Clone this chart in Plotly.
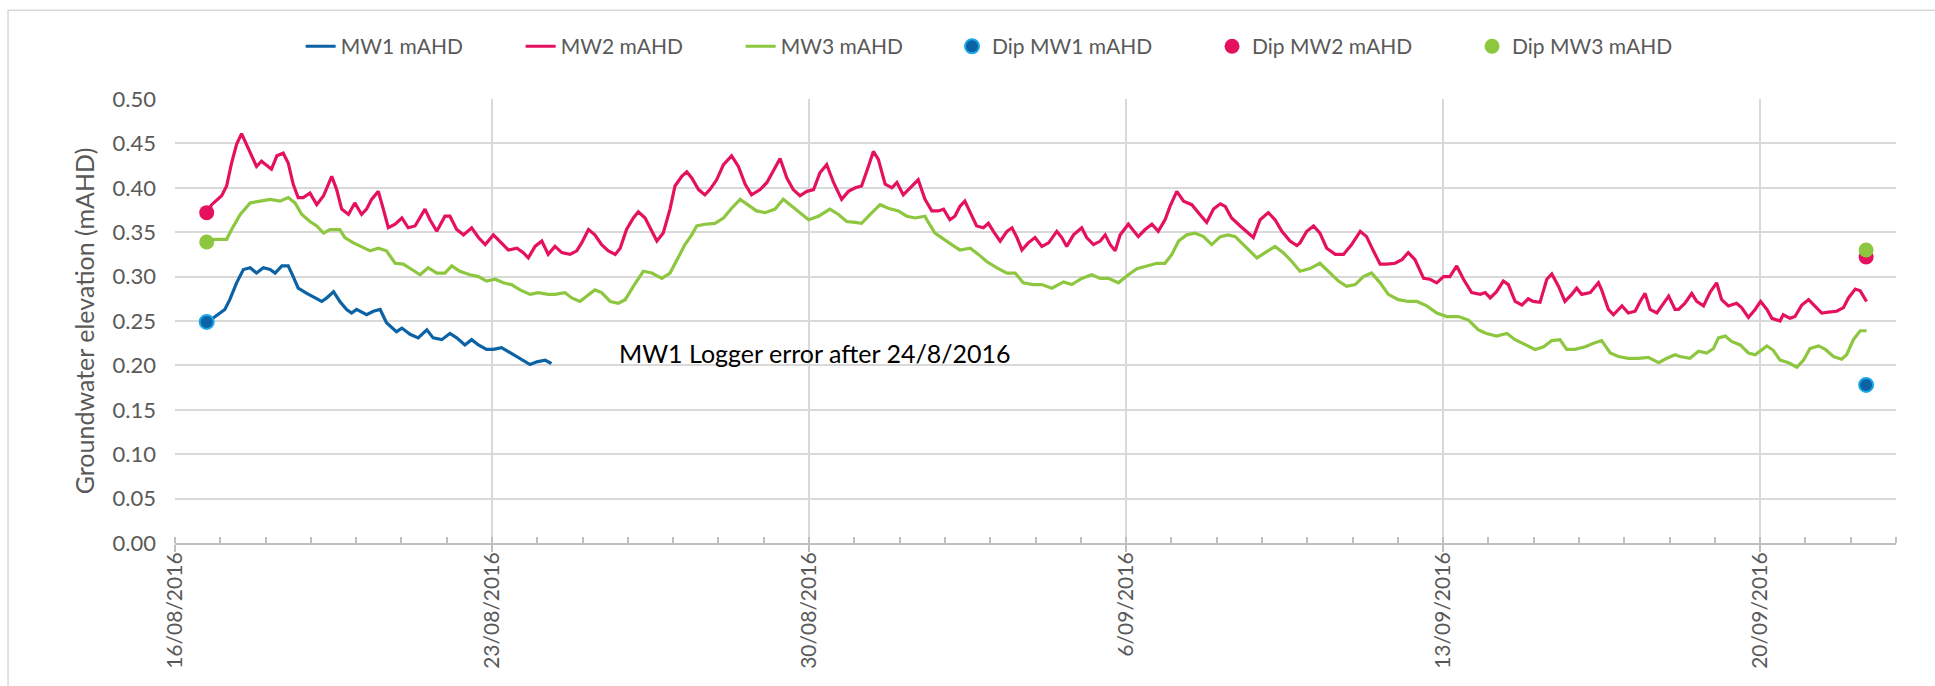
import pandas as pd
import plotly.graph_objects as go

BASE_DATE = pd.Timestamp("2016-08-16")

# (days after 16/08/2016 00:00, mAHD)
MW1_READINGS = [
    (0.70, 0.248), (0.88, 0.255), (1.10, 0.263), (1.21, 0.274), (1.36, 0.293),
    (1.51, 0.308), (1.66, 0.310), (1.80, 0.304), (1.95, 0.310), (2.10, 0.308),
    (2.21, 0.304), (2.36, 0.312), (2.50, 0.312), (2.61, 0.300), (2.72, 0.287),
    (2.91, 0.281), (3.09, 0.276), (3.24, 0.272), (3.35, 0.276), (3.50, 0.283),
    (3.64, 0.272), (3.79, 0.263), (3.90, 0.259), (4.01, 0.263), (4.23, 0.257),
    (4.38, 0.261), (4.53, 0.263), (4.67, 0.248), (4.89, 0.238), (5.01, 0.242),
    (5.19, 0.235), (5.37, 0.231), (5.56, 0.240), (5.70, 0.231), (5.89, 0.229),
    (6.07, 0.236), (6.22, 0.231), (6.40, 0.223), (6.55, 0.229), (6.70, 0.223),
    (6.88, 0.218), (7.03, 0.218), (7.21, 0.220), (7.40, 0.214), (7.62, 0.208),
    (7.84, 0.201), (7.99, 0.204), (8.17, 0.206), (8.28, 0.203), (8.31, 0.202),
]

MW2_READINGS = [
    (0.70, 0.372), (0.81, 0.381), (1.03, 0.391), (1.14, 0.402), (1.25, 0.428),
    (1.36, 0.449), (1.47, 0.461), (1.58, 0.449), (1.69, 0.438), (1.80, 0.424),
    (1.91, 0.430), (2.02, 0.426), (2.13, 0.421), (2.25, 0.436), (2.39, 0.439),
    (2.50, 0.428), (2.61, 0.404), (2.72, 0.389), (2.83, 0.389), (2.98, 0.394),
    (3.13, 0.381), (3.28, 0.391), (3.46, 0.413), (3.57, 0.398), (3.68, 0.376),
    (3.83, 0.370), (3.97, 0.383), (4.12, 0.370), (4.23, 0.376), (4.34, 0.387),
    (4.49, 0.396), (4.60, 0.376), (4.71, 0.355), (4.86, 0.359), (5.01, 0.366),
    (5.15, 0.355), (5.30, 0.357), (5.52, 0.376), (5.63, 0.364), (5.78, 0.351),
    (5.96, 0.368), (6.07, 0.368), (6.22, 0.353), (6.37, 0.347), (6.55, 0.355),
    (6.70, 0.344), (6.85, 0.336), (7.03, 0.347), (7.21, 0.338), (7.36, 0.330),
    (7.55, 0.332), (7.69, 0.327), (7.80, 0.321), (7.95, 0.334), (8.10, 0.340),
    (8.24, 0.325), (8.39, 0.334), (8.54, 0.327), (8.72, 0.325), (8.87, 0.329),
    (8.98, 0.338), (9.13, 0.353), (9.27, 0.347), (9.42, 0.336), (9.57, 0.329),
    (9.72, 0.325), (9.83, 0.332), (9.97, 0.353), (10.12, 0.366), (10.23, 0.373),
    (10.38, 0.366), (10.53, 0.351), (10.64, 0.340), (10.78, 0.349), (10.93, 0.376),
    (11.04, 0.402), (11.19, 0.413), (11.30, 0.418), (11.41, 0.411), (11.56, 0.398),
    (11.70, 0.392), (11.81, 0.398), (11.96, 0.409), (12.11, 0.426), (12.29, 0.436),
    (12.44, 0.424), (12.59, 0.404), (12.73, 0.392), (12.92, 0.398), (13.07, 0.406),
    (13.21, 0.419), (13.36, 0.433), (13.51, 0.411), (13.65, 0.398), (13.80, 0.391),
    (13.95, 0.396), (14.10, 0.398), (14.24, 0.417), (14.39, 0.426), (14.54, 0.406),
    (14.72, 0.387), (14.87, 0.396), (15.02, 0.400), (15.16, 0.402), (15.31, 0.424),
    (15.42, 0.441), (15.53, 0.432), (15.68, 0.404), (15.83, 0.400), (15.94, 0.406),
    (16.08, 0.392), (16.27, 0.402), (16.41, 0.409), (16.56, 0.387), (16.71, 0.374),
    (16.86, 0.374), (16.97, 0.376), (17.11, 0.364), (17.22, 0.368), (17.33, 0.379),
    (17.44, 0.385), (17.56, 0.372), (17.70, 0.357), (17.85, 0.355), (17.96, 0.360),
    (18.07, 0.351), (18.22, 0.340), (18.37, 0.351), (18.48, 0.355), (18.59, 0.344),
    (18.70, 0.330), (18.84, 0.338), (18.99, 0.344), (19.14, 0.334), (19.29, 0.338),
    (19.47, 0.351), (19.58, 0.344), (19.69, 0.334), (19.84, 0.347), (20.02, 0.355),
    (20.13, 0.344), (20.28, 0.336), (20.43, 0.340), (20.54, 0.347), (20.65, 0.336),
    (20.76, 0.329), (20.87, 0.347), (21.05, 0.359), (21.27, 0.345), (21.42, 0.353),
    (21.57, 0.359), (21.71, 0.351), (21.86, 0.364), (21.97, 0.379), (22.12, 0.396),
    (22.27, 0.385), (22.45, 0.381), (22.63, 0.370), (22.78, 0.361), (22.93, 0.376),
    (23.08, 0.382), (23.19, 0.379), (23.33, 0.366), (23.52, 0.357), (23.66, 0.351),
    (23.81, 0.344), (23.96, 0.364), (24.14, 0.372), (24.29, 0.364), (24.44, 0.351),
    (24.62, 0.340), (24.77, 0.335), (24.84, 0.338), (24.99, 0.351), (25.14, 0.357),
    (25.28, 0.349), (25.43, 0.332), (25.62, 0.325), (25.80, 0.325), (25.98, 0.336),
    (26.17, 0.351), (26.31, 0.345), (26.46, 0.329), (26.61, 0.314), (26.76, 0.314),
    (26.94, 0.315), (27.09, 0.319), (27.23, 0.327), (27.38, 0.319), (27.57, 0.298),
    (27.71, 0.297), (27.86, 0.293), (28.01, 0.300), (28.15, 0.300), (28.30, 0.312),
    (28.45, 0.297), (28.63, 0.282), (28.82, 0.280), (28.93, 0.282), (29.04, 0.276),
    (29.18, 0.283), (29.33, 0.295), (29.44, 0.291), (29.59, 0.272), (29.74, 0.268),
    (29.88, 0.275), (29.99, 0.272), (30.14, 0.271), (30.29, 0.297), (30.40, 0.303),
    (30.55, 0.289), (30.69, 0.272), (30.84, 0.280), (30.95, 0.287), (31.06, 0.280),
    (31.25, 0.282), (31.43, 0.293), (31.50, 0.285), (31.65, 0.263), (31.76, 0.257),
    (31.95, 0.267), (32.09, 0.259), (32.24, 0.261), (32.35, 0.272), (32.46, 0.281),
    (32.57, 0.263), (32.72, 0.259), (32.83, 0.267), (32.98, 0.278), (33.12, 0.263),
    (33.20, 0.263), (33.34, 0.270), (33.49, 0.281), (33.60, 0.272), (33.75, 0.267),
    (33.90, 0.283), (34.04, 0.293), (34.15, 0.274), (34.30, 0.267), (34.48, 0.270),
    (34.59, 0.265), (34.74, 0.254), (34.89, 0.263), (35.01, 0.272), (35.15, 0.263),
    (35.26, 0.253), (35.44, 0.250), (35.51, 0.257), (35.66, 0.253), (35.77, 0.255),
    (35.92, 0.268), (36.07, 0.274), (36.21, 0.267), (36.36, 0.259), (36.51, 0.260),
    (36.69, 0.261), (36.84, 0.265), (36.95, 0.276), (37.10, 0.286), (37.21, 0.284),
    (37.35, 0.272),
]

MW3_READINGS = [
    (0.70, 0.339), (0.88, 0.342), (1.14, 0.342), (1.25, 0.353), (1.44, 0.370),
    (1.66, 0.383), (1.88, 0.385), (2.10, 0.387), (2.32, 0.385), (2.50, 0.389),
    (2.65, 0.383), (2.80, 0.370), (2.98, 0.362), (3.13, 0.357), (3.28, 0.349),
    (3.42, 0.353), (3.64, 0.353), (3.75, 0.344), (3.94, 0.338), (4.12, 0.334),
    (4.31, 0.329), (4.49, 0.332), (4.67, 0.329), (4.86, 0.315), (5.04, 0.314),
    (5.23, 0.308), (5.41, 0.302), (5.59, 0.310), (5.78, 0.304), (5.96, 0.304),
    (6.11, 0.312), (6.29, 0.306), (6.51, 0.302), (6.70, 0.300), (6.88, 0.295),
    (7.07, 0.297), (7.25, 0.293), (7.43, 0.291), (7.62, 0.285), (7.84, 0.280),
    (8.02, 0.282), (8.24, 0.280), (8.39, 0.280), (8.61, 0.282), (8.76, 0.276),
    (8.94, 0.272), (9.13, 0.280), (9.27, 0.285), (9.42, 0.282), (9.61, 0.272),
    (9.79, 0.270), (9.94, 0.274), (10.12, 0.289), (10.34, 0.306), (10.53, 0.304),
    (10.75, 0.298), (10.93, 0.304), (11.08, 0.319), (11.26, 0.336), (11.41, 0.347),
    (11.52, 0.357), (11.70, 0.359), (11.92, 0.360), (12.11, 0.366), (12.29, 0.377),
    (12.48, 0.387), (12.66, 0.381), (12.84, 0.374), (13.03, 0.372), (13.25, 0.376),
    (13.43, 0.387), (13.62, 0.379), (13.80, 0.372), (13.99, 0.364), (14.21, 0.368),
    (14.46, 0.376), (14.65, 0.370), (14.83, 0.362), (15.02, 0.361), (15.16, 0.360),
    (15.35, 0.370), (15.57, 0.381), (15.75, 0.377), (15.97, 0.374), (16.16, 0.368),
    (16.34, 0.366), (16.56, 0.368), (16.60, 0.364), (16.78, 0.349), (16.97, 0.342),
    (17.15, 0.336), (17.33, 0.330), (17.56, 0.332), (17.74, 0.325), (17.92, 0.317),
    (18.14, 0.310), (18.37, 0.304), (18.55, 0.304), (18.73, 0.293), (18.95, 0.291),
    (19.14, 0.291), (19.36, 0.287), (19.62, 0.294), (19.80, 0.291), (20.02, 0.298),
    (20.24, 0.302), (20.43, 0.298), (20.61, 0.298), (20.83, 0.293), (21.05, 0.302),
    (21.24, 0.309), (21.46, 0.312), (21.68, 0.315), (21.86, 0.315), (22.01, 0.325),
    (22.16, 0.340), (22.34, 0.347), (22.52, 0.349), (22.71, 0.345), (22.89, 0.336),
    (23.08, 0.345), (23.26, 0.347), (23.41, 0.345), (23.59, 0.336), (23.74, 0.329),
    (23.89, 0.321), (24.07, 0.327), (24.29, 0.334), (24.47, 0.327), (24.66, 0.317),
    (24.84, 0.306), (25.06, 0.309), (25.28, 0.315), (25.47, 0.306), (25.69, 0.295),
    (25.87, 0.289), (26.06, 0.291), (26.24, 0.300), (26.42, 0.304), (26.61, 0.293),
    (26.79, 0.280), (27.01, 0.274), (27.23, 0.272), (27.42, 0.272), (27.64, 0.267),
    (27.86, 0.259), (28.08, 0.255), (28.34, 0.255), (28.56, 0.251), (28.78, 0.240),
    (28.96, 0.236), (29.18, 0.233), (29.41, 0.236), (29.59, 0.229), (29.81, 0.223),
    (30.03, 0.218), (30.22, 0.221), (30.40, 0.228), (30.58, 0.229), (30.73, 0.218),
    (30.91, 0.218), (31.14, 0.221), (31.32, 0.225), (31.50, 0.228), (31.69, 0.214),
    (31.87, 0.210), (32.09, 0.208), (32.31, 0.208), (32.53, 0.209), (32.76, 0.203),
    (32.94, 0.208), (33.12, 0.212), (33.23, 0.210), (33.45, 0.208), (33.64, 0.216),
    (33.82, 0.214), (33.97, 0.219), (34.08, 0.231), (34.23, 0.233), (34.37, 0.227),
    (34.56, 0.223), (34.74, 0.214), (34.89, 0.212), (35.04, 0.218), (35.15, 0.222),
    (35.29, 0.217), (35.44, 0.206), (35.63, 0.203), (35.81, 0.198), (35.96, 0.206),
    (36.10, 0.219), (36.29, 0.222), (36.44, 0.218), (36.62, 0.210), (36.80, 0.207),
    (36.91, 0.212), (37.06, 0.229), (37.21, 0.239), (37.35, 0.239),
]

# manual dip readings (days after 16/08/2016, mAHD)
DIP_DAYS = [0.70, 37.34]
DIP_MW1 = [0.249, 0.178]
DIP_MW2 = [0.372, 0.322]
DIP_MW3 = [0.339, 0.330]

Y_TICKS = [round(0.05 * i, 2) for i in range(11)]
NOTE_TEXT = "MW1 Logger error after 24/8/2016"

C_MW1 = "#0B62A4"
C_MW2 = "#E5115F"
C_MW3 = "#8DC63F"
C_DIP1_EDGE = "#1BA8E6"
TXT = "#595959"
GRID = "#D9D9D9"
FONT = "Lato"


def to_time(days):
    return [BASE_DATE + pd.to_timedelta(d, unit="D") for d in days]


def split(readings):
    return to_time([r[0] for r in readings]), [r[1] for r in readings]


fig = go.Figure()
for name, readings, col in [("MW1 mAHD", MW1_READINGS, C_MW1),
                            ("MW2 mAHD", MW2_READINGS, C_MW2),
                            ("MW3 mAHD", MW3_READINGS, C_MW3)]:
    xs, ys = split(readings)
    fig.add_trace(go.Scatter(x=xs, y=ys, mode="lines", name=name,
                             line=dict(color=col, width=3.2), legend="legend"))

dip_x = to_time(DIP_DAYS)
fig.add_trace(go.Scatter(x=dip_x, y=DIP_MW1, mode="markers", name="Dip MW1 mAHD",
                         marker=dict(size=14, color=C_MW1, line=dict(color=C_DIP1_EDGE, width=2)),
                         legend="legend2"))
fig.add_trace(go.Scatter(x=dip_x, y=DIP_MW2, mode="markers", name="Dip MW2 mAHD",
                         marker=dict(size=15, color=C_MW2, line=dict(width=0)),
                         legend="legend2"))
fig.add_trace(go.Scatter(x=dip_x, y=DIP_MW3, mode="markers", name="Dip MW3 mAHD",
                         marker=dict(size=15, color=C_MW3, line=dict(width=0)),
                         legend="legend2"))

fig.add_annotation(x=BASE_DATE + pd.Timedelta(days=9.75), y=0.214, xref="x", yref="y",
                   text=NOTE_TEXT, showarrow=False, xanchor="left", yanchor="middle",
                   font=dict(family=FONT, size=25, color="#000000"))

# outer chart border
fig.add_shape(type="rect", xref="paper", yref="paper", x0=-0.097, x1=1.03, y0=-0.4, y1=1.2,
              line=dict(color=GRID, width=1.5), fillcolor="rgba(0,0,0,0)", layer="below")

fig.update_layout(
    width=1935, height=686,
    margin=dict(l=175, r=39, t=99, b=143, autoexpand=False),
    paper_bgcolor="white", plot_bgcolor="white",
    font=dict(family=FONT, color=TXT, size=22),
    legend=dict(orientation="h", x=0.073, xanchor="left", y=1.118, yanchor="middle",
                font=dict(family=FONT, size=21, color=TXT), entrywidth=175,
                bgcolor="rgba(0,0,0,0)", traceorder="normal"),
    legend2=dict(orientation="h", x=0.4515, xanchor="left", y=1.118, yanchor="middle",
                 font=dict(family=FONT, size=21, color=TXT), entrywidth=215,
                 bgcolor="rgba(0,0,0,0)", traceorder="normal"),
    xaxis=dict(
        type="date", range=[BASE_DATE, BASE_DATE + pd.Timedelta(days=38)],
        tick0=BASE_DATE, dtick=7 * 86400000, tickformat="%-d/%m/%Y", tickangle=-90,
        showgrid=True, gridcolor=GRID, gridwidth=1.5, automargin=False,
        showline=True, linecolor="#BFBFBF", linewidth=2,
        ticks="outside", ticklen=7, tickcolor="#BFBFBF", tickwidth=1.5,
        ticklabelstandoff=-8,
        minor=dict(dtick=86400000, tick0=BASE_DATE, ticks="inside", ticklen=6,
                   tickcolor="#BFBFBF", tickwidth=1.5, showgrid=False),
        tickfont=dict(family=FONT, size=21, color=TXT), zeroline=False,
    ),
    yaxis=dict(
        range=[0, 0.5], tickvals=Y_TICKS, tickformat=".2f", automargin=False,
        showgrid=True, gridcolor=GRID, gridwidth=1.5, zeroline=False,
        showline=False, ticks="", ticklabelstandoff=18,
        tickfont=dict(family=FONT, size=22, color=TXT),
        title=dict(text="Groundwater elevation (mAHD)", standoff=10,
                   font=dict(family=FONT, size=25, color=TXT)),
    ),
)

fig.write_html("out.html", config={"displayModeBar": False},
               post_script="document.body.style.margin='0';")
